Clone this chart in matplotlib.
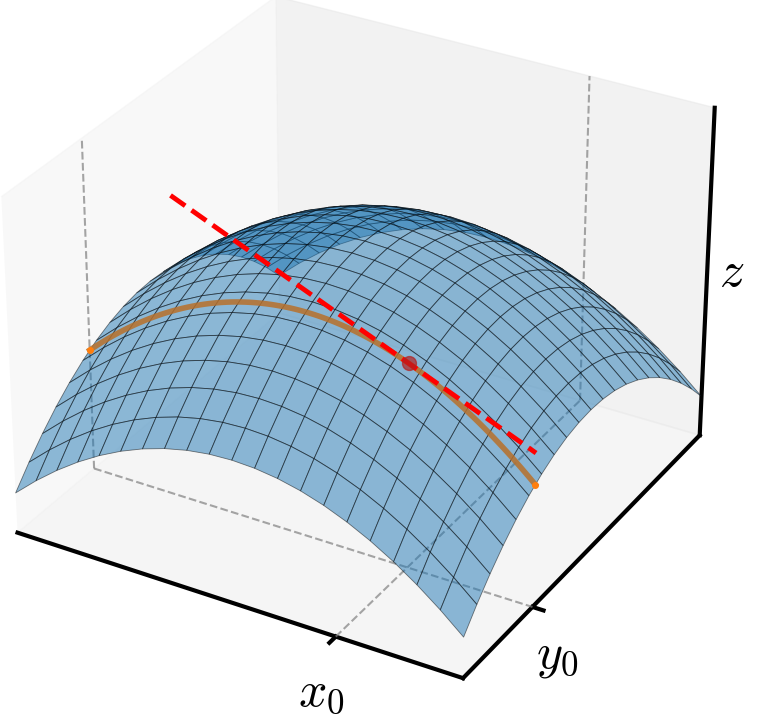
import numpy as np
import matplotlib
matplotlib.use("Agg")
import matplotlib.pyplot as plt

plt.rcParams['mathtext.fontset'] = 'cm'

x_range = [-1.0, 1.0]
y_range = [-1.0, 1.0]
x0 = 0.45
y0 = -0.45
n_grid = 21

def f(x, y):
    return -(x**2 + y**2)

xs = np.linspace(*x_range, n_grid)
ys = np.linspace(*y_range, n_grid)
X, Y = np.meshgrid(xs, ys)
Z = f(X, Y)
zmin, zmax = -2.4, 0.85

fig = plt.figure(figsize=(7.7, 7.21), dpi=100)
ax = fig.add_axes([-0.1, -0.01, 1.12, 1.1], projection='3d')
ax.view_init(elev=30, azim=-60)
ax.computed_zorder = False

ax.plot_surface(X, Y, Z, color='C0', alpha=0.5, edgecolor='black', linewidth=0.6, shade=False, zorder=2)

xc = np.linspace(*x_range, 100)
ax.plot(xc, np.full_like(xc, y0), f(xc, y0), color='#b8702a', lw=4, alpha=0.85, zorder=3)
ax.plot([x_range[0], x_range[1]], [y0, y0], [f(x_range[0], y0), f(x_range[1], y0)], 'o', color='C1', ms=4, zorder=3)

z0 = f(x0, y0)
slope = -2 * x0
xt = np.array([-0.6, 1.0])
ax.plot(xt, np.full_like(xt, y0), z0 + slope * (xt - x0), '--', color='red', lw=3.5, zorder=4)
ax.plot([x0], [y0], [z0], 'o', color='firebrick', ms=10, alpha=0.7, zorder=5)

g = dict(color='gray', ls='--', lw=1.5, alpha=0.7, zorder=1)
ax.plot([x_range[0]] * 2, [y0, y0], [zmin, zmax], **g)
ax.plot([x0, x0], [y_range[1]] * 2, [zmin, zmax], **g)
ax.plot(list(x_range), [y0, y0], [zmin, zmin], **g)
ax.plot([x0, x0], list(y_range), [zmin, zmin], **g)

ax.set_xlim(*x_range); ax.set_ylim(*y_range); ax.set_zlim(zmin, zmax)
ax.set_xticks([x0]); ax.set_xticklabels(['$x_0$'], fontsize=36)
ax.set_yticks([y0]); ax.set_yticklabels(['$y_0$'], fontsize=36)
ax.set_zticks([])
ax.set_zlabel('$z$', fontsize=36, labelpad=-10)
ax.grid(False)
for axis in (ax.xaxis, ax.yaxis, ax.zaxis):
    axis.line.set_linewidth(3)
    axis.line.set_color('black')
    axis._axinfo['tick']['outward_factor'] = 0.0
    axis._axinfo['tick']['inward_factor'] = 0.3
    axis._axinfo['tick']['linewidth'][True] = 3
ax.tick_params(pad=8)

fig.savefig('out.png', dpi=100)
